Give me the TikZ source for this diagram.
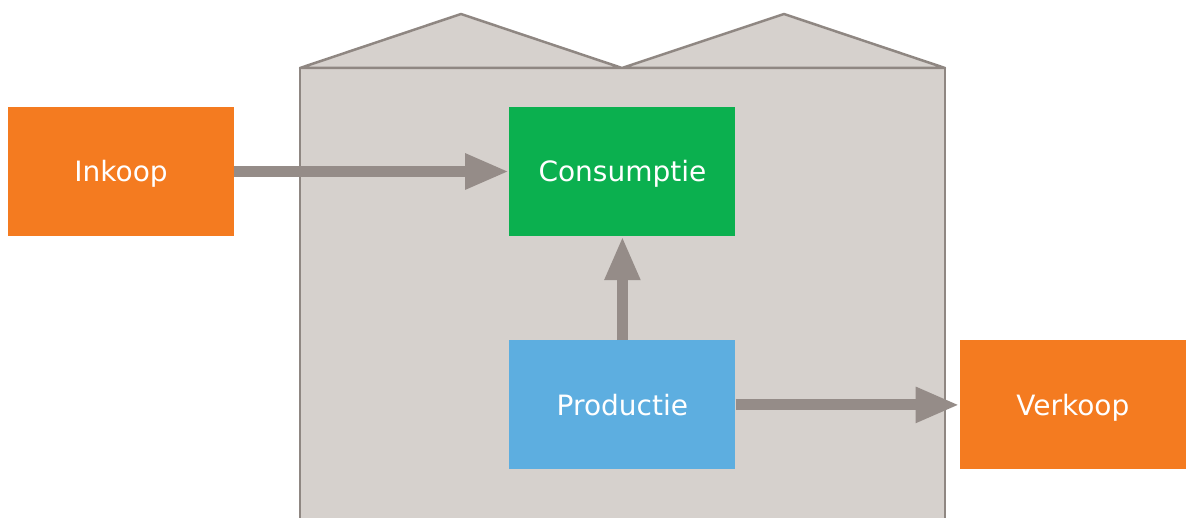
\documentclass[tikz,border=0pt]{standalone}
\usepackage{fontspec}
\setmainfont{DejaVu Sans}
\usetikzlibrary{arrows.meta,positioning}
\definecolor{oranje}{HTML}{F47B20}
\definecolor{groen}{HTML}{0BB04F}
\definecolor{blauw}{HTML}{5DAEE0}
\definecolor{pijl}{HTML}{958C88}
\definecolor{hal}{HTML}{D6D1CD}
\definecolor{halrand}{HTML}{8F8782}
\tikzset{flow/.style={pijl, line width=11pt, -{Triangle[length=44pt, width=33pt]}},
  blok/.style={inner sep=0pt, minimum width=226pt, minimum height=129pt, text=white,
    text height=24pt, text depth=3pt, font=\fontsize{28}{33}\selectfont}}

\begin{document}
\begin{tikzpicture}[x=1pt, y=-1pt]
  \useasboundingbox (0,0) rectangle (1192,518);
  \clip (0,0) rectangle (1192,518);
  % building with two roof gables
  \filldraw[fill=hal, draw=halrand, line width=2.5pt, line join=miter]
    (300,530) -- (300,68) -- (945,68) -- (945,530);
  \filldraw[fill=hal, draw=halrand, line width=2.5pt, line join=round]
    (300,68) -- (461,14) -- (622,68) -- (784,14) -- (945,68) -- cycle;
  % blocks
  \node[blok, fill=oranje] (inkoop) at (121,171.5) {Inkoop};
  \node[blok, fill=groen, right=275pt of inkoop] (cons) {Consumptie};
  \node[blok, fill=blauw, below=104pt of cons] (prod) {Productie};
  \node[blok, fill=oranje, right=224pt of prod] (verkoop) {Verkoop};
  % flows
  \draw[flow] (inkoop) -- (cons);
  \draw[flow] (prod) -- (cons);
  \draw[flow] (prod) -- (verkoop);
\end{tikzpicture}
\end{document}
